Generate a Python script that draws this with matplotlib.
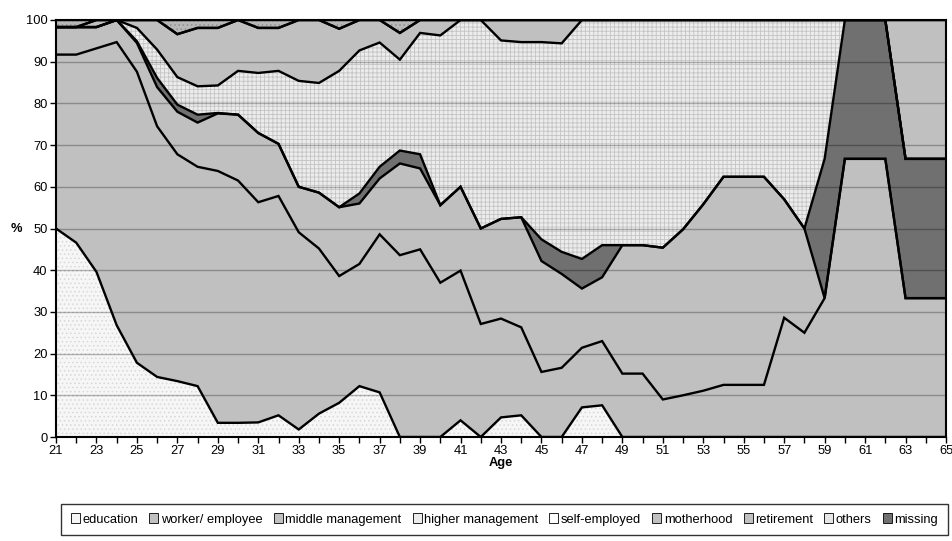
import numpy as np
import matplotlib
matplotlib.use("Agg")
import matplotlib.pyplot as plt
from matplotlib.patches import Patch

plt.rcParams['font.family'] = ['Liberation Sans', 'DejaVu Sans']
plt.rcParams['hatch.linewidth'] = 0.6

ages = np.arange(21, 66)

# shares in % per age (stack order bottom -> top)
education = [50.0, 46.6, 39.6, 26.8, 17.8, 14.4, 13.4, 12.2, 3.4, 3.4, 3.5, 5.2, 1.8, 5.6, 8.2,
             12.2, 10.7, 0, 0, 0, 4.0, 0, 4.7, 5.2, 0, 0, 7.1, 7.6, 0, 0,
             0, 0, 0, 0, 0, 0, 0, 0, 0, 0, 0, 0, 0, 0, 0]
worker = [41.7, 45.1, 53.6, 67.9, 69.8, 60.1, 54.4, 52.6, 60.4, 58.1, 52.8, 52.6, 47.3, 39.6, 30.4,
          29.3, 37.9, 43.6, 45.0, 37.0, 35.9, 27.1, 23.7, 21.1, 15.6, 16.6, 14.3, 15.4, 15.2, 15.2,
          9.0, 10.0, 11.1, 12.5, 12.5, 12.5, 28.6, 25.0, 33.3, 66.7, 66.7, 66.7, 33.3, 33.3, 33.3]
middle = [6.6, 6.6, 5.1, 5.3, 6.9, 9.4, 10.2, 10.6, 13.8, 15.8, 16.6, 12.5, 10.9, 13.4, 16.5,
          14.5, 13.4, 22.0, 19.4, 18.6, 20.1, 22.9, 23.9, 26.4, 26.6, 22.5, 14.2, 15.3, 30.8, 30.8,
          36.4, 39.8, 44.7, 49.9, 49.9, 49.9, 28.4, 25.0, 0, 0, 0, 0, 0, 0, 0]
missing = [0, 0, 0, 0, 0.4, 2.2, 1.7, 1.9, 0.1, 0, 0, 0, 0, 0, 0,
           2.4, 2.8, 3.1, 3.4, 0, 0, 0, 0, 0, 5.2, 5.3, 7.1, 7.7, 0, 0,
           0, 0, 0, 0, 0, 0, 0, 0, 33.4, 33.3, 33.3, 33.3, 33.4, 33.4, 33.4]
higher = [0, 0, 0, 0, 3.2, 6.8, 6.6, 6.8, 6.6, 10.5, 14.4, 17.5, 25.4, 26.3, 32.7,
          34.3, 29.8, 21.8, 29.1, 40.7, 40.0, 50.0, 42.8, 42.0, 47.3, 50.0, 57.3, 54.0, 54.0, 54.0,
          54.6, 50.2, 44.2, 37.6, 37.6, 37.6, 43.0, 50.0, 33.3, 0, 0, 0, 0, 0, 0]
motherhood = [0, 0, 1.7, 0, 1.9, 7.1, 10.3, 14.0, 13.8, 12.2, 10.8, 10.3, 14.6, 15.1, 10.1,
              7.3, 5.4, 6.4, 3.1, 3.7, 0, 0, 4.9, 5.3, 5.3, 5.6, 0, 0, 0, 0,
              0, 0, 0, 0, 0, 0, 0, 0, 0, 0, 0, 0, 0, 0, 0]
retirement = [0, 0, 0, 0, 0, 0, 0, 0, 0, 0, 0, 0, 0, 0, 0,
              0, 0, 0, 0, 0, 0, 0, 0, 0, 0, 0, 0, 0, 0, 0,
              0, 0, 0, 0, 0, 0, 0, 0, 0, 0, 0, 0, 33.3, 33.3, 33.3]
others = [1.7, 1.7, 0, 0, 0, 0, 3.4, 1.9, 1.9, 0, 1.9, 1.9, 0, 0, 2.1,
          0, 0, 3.1, 0, 0, 0, 0, 0, 0, 0, 0, 0, 0, 0, 0,
          0, 0, 0, 0, 0, 0, 0, 0, 0, 0, 0, 0, 0, 0, 0]

legend_order = ['education', 'worker/ employee', 'middle management', 'higher management',
                'self-employed', 'motherhood', 'retirement', 'others', 'missing']

# fill style per series: facecolor, hatch, hatch colour
styles = {
    'education': ('#f6f6f6', '....', '#d8d8d8'),
    'worker/ employee': ('#c0c0c0', None, '#c0c0c0'),
    'middle management': ('#c0c0c0', None, '#c0c0c0'),
    'higher management': ('#ececec', '++++', '#c4c4c4'),
    'self-employed': ('#ffffff', None, '#ffffff'),
    'motherhood': ('#c0c0c0', None, '#c0c0c0'),
    'retirement': ('#c0c0c0', None, '#c0c0c0'),
    'others': ('#b8b8b8', '....', '#909090'),
    'missing': ('#707070', None, '#707070'),
}

stack = [('education', education), ('worker/ employee', worker), ('middle management', middle),
         ('missing', missing), ('higher management', higher), ('motherhood', motherhood),
         ('retirement', retirement), ('others', others)]

fig = plt.figure(figsize=(9.53, 5.41), dpi=100)
ax = fig.add_axes([56 / 953, 1 - 437 / 541, 890 / 953, 417 / 541])

base = np.zeros(len(ages))
tops = []
for name, vals in stack:
    top = base + np.array(vals)
    fc, hatch, hc = styles[name]
    ax.fill_between(ages, base, top, facecolor=fc, hatch=hatch, edgecolor=hc,
                    linewidth=0, zorder=1)
    tops.append(top)
    base = top

for y in range(10, 100, 10):
    ax.axhline(y, color='black', alpha=0.28, lw=1, zorder=2)

for top in tops:
    ax.plot(ages, np.minimum(top, 100), color='black', lw=1.7, zorder=3,
            solid_joinstyle='miter')

ax.set_xlim(21, 65)
ax.set_ylim(0, 100)
ax.set_xticks(np.arange(21, 66, 2))
ax.set_xticks(np.arange(21, 66, 1), minor=True)
ax.set_yticks(np.arange(0, 101, 10))
ax.tick_params(axis='both', which='both', direction='out', length=4, width=1,
               labelsize=9.3, pad=2)
ax.tick_params(axis='x', which='major', pad=1.5)
for s in ax.spines.values():
    s.set_color('black')
    s.set_linewidth(1.5)
    s.set_zorder(4)

ax.set_xlabel('Age', fontsize=9.3, fontweight='bold', labelpad=0)
ax.set_ylabel('%', fontsize=9.3, fontweight='bold', rotation=0, va='center')
ax.yaxis.set_label_coords(-0.044, 0.5)

handles = []
for name in legend_order:
    fc, hatch, hc = styles[name]
    if name == 'others':
        fc = '#e6e6e6'
    handles.append(Patch(facecolor=fc, edgecolor='black', linewidth=0.6, label=name))
leg = fig.legend(handles=handles, loc='center', ncol=9,
                 bbox_to_anchor=(504.5 / 953, 1 - 519.5 / 541),
                 fontsize=9.3, frameon=True, fancybox=False, edgecolor='black',
                 handlelength=0.7, handleheight=0.7, handletextpad=0.2,
                 columnspacing=0.86, borderpad=0.75, borderaxespad=0)
leg.get_frame().set_linewidth(1)

fig.savefig('out.png', dpi=100)
